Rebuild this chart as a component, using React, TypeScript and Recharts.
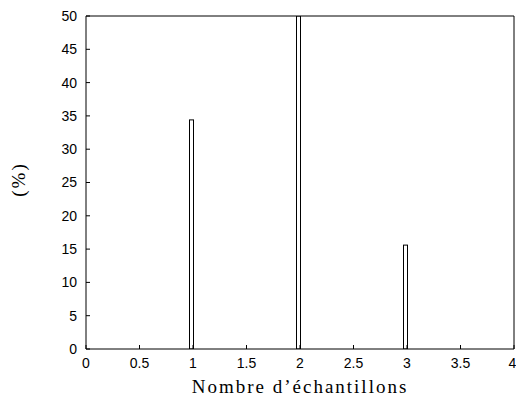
import { BarChart, Bar, XAxis, YAxis } from 'recharts';

const sampleCounts = [1, 2, 3];
const percentages = [34.4, 50, 15.6];
const xTicks = [0, 0.5, 1, 1.5, 2, 2.5, 3, 3.5, 4];
const yTicks = [0, 5, 10, 15, 20, 25, 30, 35, 40, 45, 50];

const data = sampleCounts.map((n, i) => ({ n, pct: percentages[i] }));

const tickFont = { fill: '#000', fontSize: 14, fontFamily: 'Liberation Sans, Arial, sans-serif' };
const labelFont = { fill: '#000', fontSize: 19, fontFamily: 'Liberation Serif, Times New Roman, serif', letterSpacing: 2 };

// gnuplot draws the box to the left of the x value, not centred on it
const LeftBox = (props: any) => {
    const { x, y, width, height } = props;
    return (
        <rect
            x={x - width / 2}
            y={y}
            width={width}
            height={height}
            fill="#fff"
            stroke="#000"
            strokeWidth={1}
        />
    );
};

// only there so the mirrored top/right axes get drawn
const Nothing = () => null;

export default function App() {
    return (
        <div style={{ position: 'absolute', left: 0, top: 0, background: '#fff' }}>
            <BarChart
                width={516}
                height={402}
                data={data}
                margin={{ top: 15, right: 1, left: 0, bottom: 0 }}
            >
                <XAxis
                    dataKey="n"
                    type="number"
                    domain={[0, 4]}
                    ticks={xTicks}
                    height={53}
                    tick={tickFont}
                    tickSize={-4}
                    tickMargin={13}
                    stroke="#000"
                    allowDataOverflow
                    label={{ value: 'Nombre d’échantillons', position: 'insideBottom', offset: 9, style: labelFont }}
                />
                <XAxis
                    xAxisId="top"
                    orientation="top"
                    dataKey="n"
                    type="number"
                    domain={[0, 4]}
                    ticks={xTicks}
                    height={1}
                    tick={false}
                    tickSize={-4}
                    stroke="#000"
                    allowDataOverflow
                />
                <YAxis
                    type="number"
                    domain={[0, 50]}
                    ticks={yTicks}
                    width={86}
                    tick={tickFont}
                    tickSize={-4}
                    tickMargin={13}
                    stroke="#000"
                    allowDataOverflow
                    label={{ value: '(%)', angle: -90, position: 'center', dx: -25, dy: -3, style: labelFont }}
                />
                <YAxis
                    yAxisId="right"
                    orientation="right"
                    type="number"
                    domain={[0, 50]}
                    ticks={yTicks}
                    width={1}
                    tick={false}
                    tickSize={-4}
                    stroke="#000"
                    allowDataOverflow
                />
                <Bar dataKey="pct" barSize={4} shape={<LeftBox />} isAnimationActive={false} />
                <Bar
                    xAxisId="top"
                    yAxisId="right"
                    dataKey="pct"
                    shape={<Nothing />}
                    isAnimationActive={false}
                />
            </BarChart>
        </div>
    );
}
